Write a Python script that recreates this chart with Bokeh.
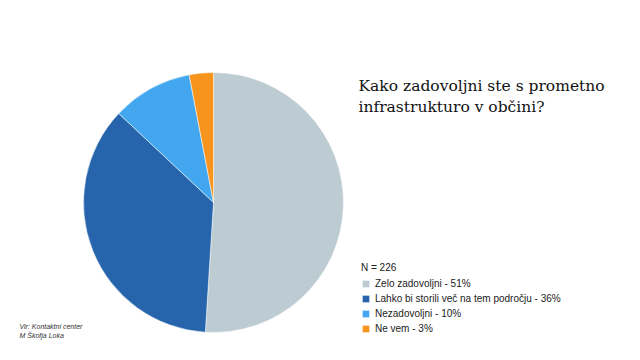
import numpy as np
from bokeh.plotting import figure
from bokeh.models import Range1d, Label, Legend, LegendItem, ColumnDataSource
from bokeh.embed import file_html
from bokeh.resources import INLINE

categories = ["Zelo zadovoljni", "Lahko bi storili več na tem področju", "Nezadovoljni", "Ne vem"]
values = [51, 36, 10, 3]
colors = ["#BDCCD3", "#2665AC", "#42A7EF", "#F7941E"]
n_total = 226
title_lines = ["Kako zadovoljni ste s prometno", "infrastrukturo v občini?"]
source_lines = ["Vir: Kontaktni center", "M Škofja Loka"]

vals = np.array(values, dtype=float)
frac = vals / vals.sum()
cum = np.concatenate([[0.0], np.cumsum(frac)])
start = np.pi / 2 - cum[:-1] * 2 * np.pi
end = np.pi / 2 - cum[1:] * 2 * np.pi

src = ColumnDataSource(dict(
    start=start, end=end, color=colors,
    label=[f"{c} - {v}%" for c, v in zip(categories, values)],
))

W, H = 624, 344
p = figure(width=W, height=H, output_backend="svg", toolbar_location=None,
           x_range=Range1d(0, 624), y_range=Range1d(16, 360), min_border=0)
p.axis.visible = False
p.grid.visible = False
p.outline_line_color = None
p.background_fill_color = "white"

cx, cy, r = 213, 158, 130
wedges = p.wedge(x=cx, y=cy, radius=r, start_angle="start", end_angle="end",
                 direction="clock", fill_color="color", line_color="white",
                 line_width=0.5, source=src)

items = [LegendItem(label=src.data["label"][i], renderers=[wedges], index=i) for i in range(len(values))]
legend = Legend(items=items, location=(361, 8), title=f"N = {n_total}",
                title_text_font="Liberation Sans", title_text_font_size="10px",
                title_text_font_style="normal", title_text_color="#222222", title_standoff=3,
                label_text_font="Liberation Sans", label_text_font_size="10px",
                label_text_color="#222222", glyph_width=9, glyph_height=9,
                label_height=15, spacing=0, padding=0, margin=0, label_standoff=5,
                border_line_alpha=0, background_fill_alpha=0)
p.add_layout(legend, "center")

for i, t in enumerate(title_lines):
    p.add_layout(Label(x=358, y=360 - 85 - i * 21, text=t, text_font="DejaVu Serif",
                       text_font_size="15.5px", text_color="#111111", text_baseline="alphabetic"))

for i, t in enumerate(source_lines):
    p.add_layout(Label(x=19, y=360 - 326 - i * 9, text=t, text_font="Liberation Sans",
                       text_font_size="7px", text_font_style="italic", text_color="#333333",
                       text_baseline="alphabetic"))

open("out.html", "w").write(file_html(p, INLINE))
